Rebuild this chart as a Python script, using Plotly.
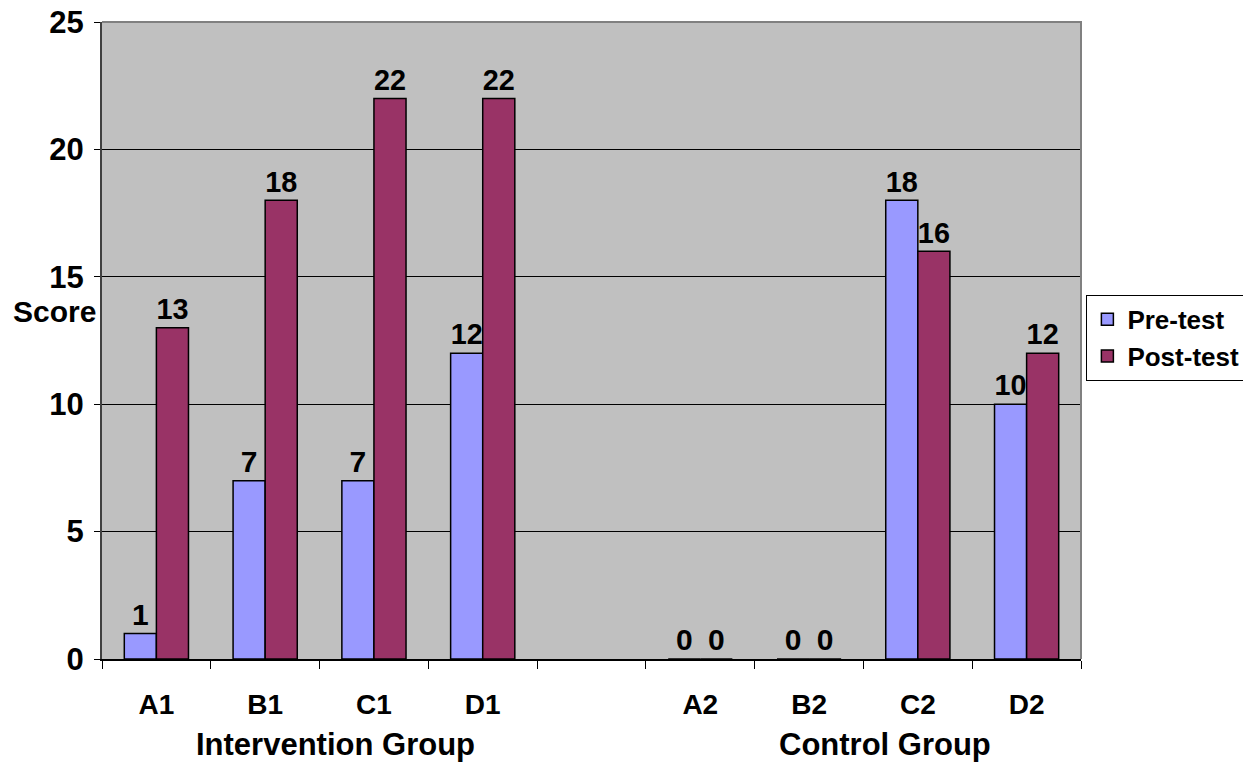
import plotly.graph_objects as go

# Participants (blank slot separates the two groups)
categories = ["A1", "B1", "C1", "D1", " ", "A2", "B2", "C2", "D2"]
pre_test = [1, 7, 7, 12, None, 0, 0, 18, 10]
post_test = [13, 18, 22, 22, None, 0, 0, 16, 12]
y_ticks = [0, 5, 10, 15, 20, 25]

FONT = "Liberation Sans, Arial, sans-serif"

fig = go.Figure()
fig.add_trace(go.Bar(
    name="Pre-test", x=categories, y=pre_test,
    marker=dict(color="#9999FF", line=dict(color="black", width=1.5)),
    texttemplate="%{y}", textposition="outside", cliponaxis=False,
    textfont=dict(family=FONT, size=30, color="black", weight="bold"),
))
fig.add_trace(go.Bar(
    name="Post-test", x=categories, y=post_test,
    marker=dict(color="#993366", line=dict(color="black", width=1.5)),
    texttemplate="%{y}", textposition="outside", cliponaxis=False,
    textfont=dict(family=FONT, size=30, color="black", weight="bold"),
))

fig.update_layout(
    width=1243, height=762,
    margin=dict(l=102, r=162, t=22, b=103, autoexpand=False),
    paper_bgcolor="white", plot_bgcolor="#C0C0C0",
    barmode="group", bargap=0.41, bargroupgap=0,
    font=dict(family=FONT, color="black"),
    legend=dict(
        xref="container", yref="container",
        x=0.874, y=0.613, xanchor="left", yanchor="top",
        bgcolor="white", bordercolor="black", borderwidth=1,
        font=dict(family=FONT, size=26, color="black", weight="bold"),
        tracegroupgap=6, itemwidth=30,
    ),
    showlegend=True,
)

fig.update_xaxes(
    type="category", categoryorder="array", categoryarray=categories,
    tickson="boundaries", ticks="outside", ticklen=8, tickcolor="black",
    showline=True, linecolor="black", linewidth=1.5,
    showgrid=False, ticklabelstandoff=20, automargin=False,
    tickfont=dict(family=FONT, size=28, color="black", weight="bold"),
)
fig.update_yaxes(
    range=[0, 25], tickvals=y_ticks, ticks="outside", ticklen=6,
    tickcolor="black", showline=True, linecolor="#404040", linewidth=2,
    showgrid=True, gridcolor="black", gridwidth=1, zeroline=False,
    ticklabelstandoff=4, automargin=False,
    tickfont=dict(family=FONT, size=31, color="black", weight="bold"),
)

# Grey frame on the top and right of the plot area
fig.add_shape(type="path", xref="paper", yref="paper",
              path="M 0,1 L 1,1 L 1,0", line=dict(color="#808080", width=2),
              layer="above")

# Axis title and group captions
fig.add_annotation(text="Score", xref="paper", yref="paper", x=-0.004, y=0.546,
                   xanchor="right", yanchor="middle", showarrow=False,
                   font=dict(family=FONT, size=30, color="black", weight="bold"))
fig.add_annotation(text="Intervention Group", xref="paper", yref="paper",
                   x=0.239, y=-0.135, xanchor="center", yanchor="middle",
                   showarrow=False,
                   font=dict(family=FONT, size=31, color="black", weight="bold"))
fig.add_annotation(text="Control Group", xref="paper", yref="paper",
                   x=0.80, y=-0.135, xanchor="center", yanchor="middle",
                   showarrow=False,
                   font=dict(family=FONT, size=31, color="black", weight="bold"))

fig.write_html("out.html")
